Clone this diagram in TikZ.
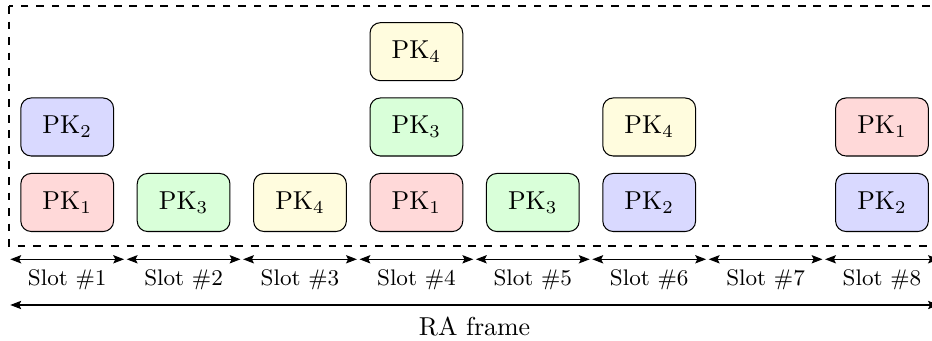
\documentclass[tikz,border=0pt]{standalone}
\usetikzlibrary{arrows.meta}
\definecolor{pkred}{RGB}{255,217,217}
\definecolor{pkgreen}{RGB}{217,255,217}
\definecolor{pkblue}{RGB}{217,217,255}
\definecolor{pkyellow}{RGB}{255,252,222}
\tikzset{
  pk/.style={draw, rounded corners=4pt, minimum width=35.8pt, minimum height=22.4pt, inner sep=0pt, font=\normalsize},
  pk1/.style={pk, fill=pkred},
  pk2/.style={pk, fill=pkblue},
  pk3/.style={pk, fill=pkgreen},
  pk4/.style={pk, fill=pkyellow},
  slotarrow/.style={{Stealth[length=4.2pt,width=3.2pt,inset=0.8pt]}-{Stealth[length=4.2pt,width=3.2pt,inset=0.8pt]}, shorten <=0.5pt, shorten >=0.5pt},
  slotlabel/.style={font=\fontsize{8.7}{10}\selectfont, inner sep=0pt},
}
\begin{document}
\begin{tikzpicture}[x=0.386pt, y=-0.386pt]
\path[use as bounding box, clip] (0,0) rectangle (932,341);
% frame
\draw[dashed] (9,6) rectangle (960,246);
% boxes: row y
\def\ra{202.5}\def\rb{127}\def\rc{51.7}
\node[pk1] (s1a) at (67.2,\ra) {PK$_1$};
\node[pk2] (s1b) at (67.2,\rb) {PK$_2$};
\node[pk3] (s2a) at (183.6,\ra) {PK$_3$};
\node[pk4] (s3a) at (300,\ra) {PK$_4$};
\node[pk1] (s4a) at (416.4,\ra) {PK$_1$};
\node[pk3] (s4b) at (416.4,\rb) {PK$_3$};
\node[pk4] (s4c) at (416.4,\rc) {PK$_4$};
\node[pk3] (s5a) at (532.8,\ra) {PK$_3$};
\node[pk2] (s6a) at (649.2,\ra) {PK$_2$};
\node[pk4] (s6b) at (649.2,\rb) {PK$_4$};
\node[pk2] (s8a) at (882,\ra) {PK$_2$};
\node[pk1] (s8b) at (882,\rb) {PK$_1$};
% slot boundaries
\foreach \k in {0,...,8} {
  \coordinate (b\k) at ({9+116.4*\k},259.3);
}
\foreach \k [evaluate=\k as \j using int(\k-1)] in {1,...,8} {
  \draw[slotarrow] (b\j) -- (b\k);
  \node[slotlabel] (l\k) at ({9+116.4*(\k-0.5)},280) {Slot \#\k};
}
\coordinate (ra0) at (9,305);
\coordinate (ra1) at (940.2,305);
\draw[slotarrow] (ra0) -- (ra1);
\node[inner sep=0pt] (ra) at (474.6,327) {RA frame};
\end{tikzpicture}
\end{document}
